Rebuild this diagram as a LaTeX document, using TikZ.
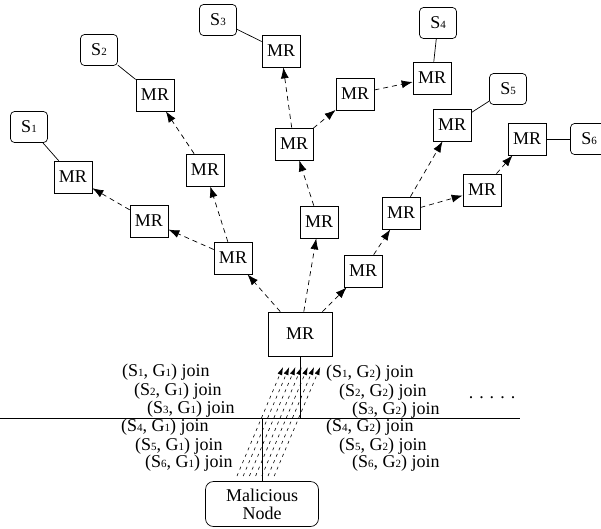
\documentclass[tikz,border=0pt]{standalone}
\usepackage{fontspec}
\setmainfont{Liberation Serif}
\usetikzlibrary{arrows.meta}
\tikzset{
  router/.style={rectangle, draw, minimum width=38pt, minimum height=32pt,
    inner sep=0pt, line width=0.7pt},
  source/.style={rectangle, draw, rounded corners=4pt, minimum width=37pt,
    minimum height=31pt, inner sep=0pt, line width=0.7pt},
  hostbox/.style={rectangle, draw, rounded corners=8pt, minimum width=113pt,
    minimum height=45pt, inner sep=0pt, align=center, line width=0.7pt,
    font=\fontsize{18}{18}\selectfont},
  treearrow/.style={-{Latex[length=11pt,width=8pt]}, dash pattern=on 5pt off 4pt, line width=0.7pt},
  spoofarrow/.style={-{Latex[length=8pt,width=5pt]}, dash pattern=on 3pt off 4pt, line width=0.6pt},
  link/.style={line width=0.7pt},
  joinlbl/.style={anchor=west, inner sep=0pt}
}
\newcommand{\dg}[1]{{\fontsize{11}{11}\selectfont #1}}

\begin{document}
\begin{tikzpicture}[x=1pt, y=-1pt, font=\fontsize{18}{20}\selectfont]
  \useasboundingbox (0,0) rectangle (601,528);

  % Routers
  \node[router, minimum width=64pt, minimum height=44pt] (mr) at (300,334) {MR};
  \node[router] (mra) at (233,258) {MR};
  \node[router] (mrb) at (149,221) {MR};
  \node[router] (mr1) at (73,177) {MR};
  \node[router] (mrc) at (205,170) {MR};
  \node[router] (mr2) at (155,95) {MR};
  \node[router] (mrd) at (319,222) {MR};
  \node[router] (mre) at (294,144) {MR};
  \node[router] (mr3) at (281,51) {MR};
  \node[router] (mrf) at (355,94) {MR};
  \node[router] (mr4) at (432,78) {MR};
  \node[router] (mrg) at (363,271) {MR};
  \node[router] (mrh) at (401,213) {MR};
  \node[router] (mr5) at (452,125) {MR};
  \node[router] (mri) at (482,190) {MR};
  \node[router] (mr6) at (527,139) {MR};

  % Sources
  \node[source] (s1) at (29,127) {S\dg{1}};
  \node[source] (s2) at (99,50) {S\dg{2}};
  \node[source] (s3) at (218,20) {S\dg{3}};
  \node[source] (s4) at (438,23) {S\dg{4}};
  \node[source] (s5) at (508,89) {S\dg{5}};
  \node[source] (s6) at (589,139) {S\dg{6}};

  \draw[link] (s1) -- (mr1);
  \draw[link] (s2) -- (mr2);
  \draw[link] (s3) -- (mr3);
  \draw[link] (s4) -- (mr4);
  \draw[link] (s5) -- (mr5);
  \draw[link] (s6) -- (mr6);

  % Multicast tree
  \draw[treearrow] (mr) -- (mra);
  \draw[treearrow] (mra) -- (mrb);
  \draw[treearrow] (mrb) -- (mr1);
  \draw[treearrow] (mra) -- (mrc);
  \draw[treearrow] (mrc) -- (mr2);
  \draw[treearrow] (mr) -- (mrd);
  \draw[treearrow] (mrd) -- (mre);
  \draw[treearrow] (mre) -- (mr3);
  \draw[treearrow] (mre) -- (mrf);
  \draw[treearrow] (mrf) -- (mr4);
  \draw[treearrow] (mr) -- (mrg);
  \draw[treearrow] (mrg) -- (mrh);
  \draw[treearrow] (mrh) -- (mr5);
  \draw[treearrow] (mrh) -- (mri);
  \draw[treearrow] (mri) -- (mr6);

  % LAN
  \node[hostbox] (mal) at (262,504) {Malicious\\Node};
  \coordinate (lanL) at (0,418);
  \coordinate (lanR) at (520,418);
  \draw[link] (lanL) -- (lanR);
  \draw[link] (mr.south) -- (mr.south |- lanL);
  \draw[link] (mal.north) -- (mal.north |- lanL);

  % Spoofed joins
  \foreach \i in {0,...,6}
    \draw[spoofarrow] (237+6.2*\i,476) -- (283+6.2*\i,367);

  \node[joinlbl] (j11) at (122,372) {(S\dg{1}, G\dg{1}) join};
  \node[joinlbl] (j21) at (134,391) {(S\dg{2}, G\dg{1}) join};
  \node[joinlbl] (j31) at (147,409) {(S\dg{3}, G\dg{1}) join};
  \node[joinlbl] (j41) at (121,427) {(S\dg{4}, G\dg{1}) join};
  \node[joinlbl] (j51) at (135,446) {(S\dg{5}, G\dg{1}) join};
  \node[joinlbl] (j61) at (145,463) {(S\dg{6}, G\dg{1}) join};
  \node[joinlbl] (j12) at (326,373) {(S\dg{1}, G\dg{2}) join};
  \node[joinlbl] (j22) at (339,392) {(S\dg{2}, G\dg{2}) join};
  \node[joinlbl] (j32) at (352,410) {(S\dg{3}, G\dg{2}) join};
  \node[joinlbl] (j42) at (326,427) {(S\dg{4}, G\dg{2}) join};
  \node[joinlbl] (j52) at (339,446) {(S\dg{5}, G\dg{2}) join};
  \node[joinlbl] (j62) at (352,463) {(S\dg{6}, G\dg{2}) join};
  \node (dots) at (492,398) {. . . . .};
\end{tikzpicture}
\end{document}
